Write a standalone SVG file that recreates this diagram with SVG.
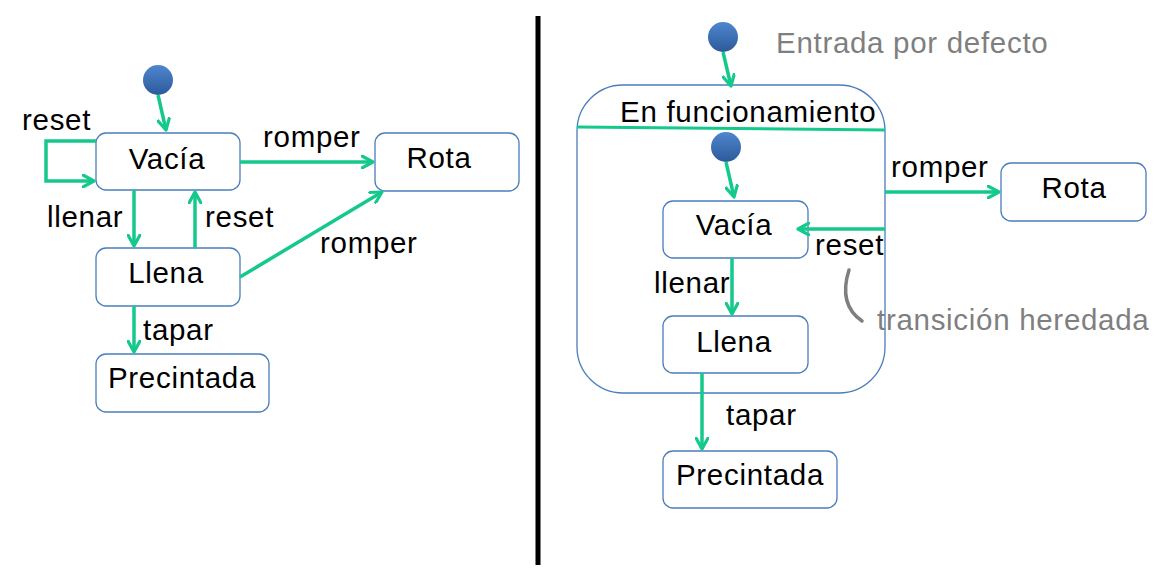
<svg xmlns="http://www.w3.org/2000/svg" width="1162" height="577" viewBox="0 0 1162 577">
<style>
.box{fill:#fff;stroke:#4a7ebb;stroke-width:1.3}
.t{font-family:"Liberation Sans",Arial,sans-serif;font-size:29.5px;letter-spacing:0.7px;fill:#000}
.c{text-anchor:middle}
.g{fill:#7f7f7f}
.e{fill:none;stroke:#14c98b;stroke-width:3.5}
.dot{fill:url(#dg)}
</style>
<defs>
<linearGradient id="dg" x1="0" y1="0" x2="0" y2="1">
<stop offset="0" stop-color="#4f86cf"/>
<stop offset="1" stop-color="#2c5a9a"/>
</linearGradient>
<marker id="ah" viewBox="0 0 14 14" refX="12" refY="7" markerWidth="14" markerHeight="14" markerUnits="userSpaceOnUse" orient="auto">
<path d="M1,1 L12,7 L1,13" fill="none" stroke="#14c98b" stroke-width="3.2" stroke-linecap="round" stroke-linejoin="round"/>
</marker>
</defs>
<rect width="1162" height="577" fill="#fff"/>
<line x1="538" y1="16" x2="538" y2="565" stroke="#000" stroke-width="5"/>

<!-- Left diagram -->
<g id="L_init"><circle class="dot" cx="158" cy="80" r="15"/></g>
<g id="L_vacia"><rect class="box" x="96" y="133" width="144" height="57" rx="10"/><text class="t c" x="167" y="169">Vacía</text></g>
<g id="L_rota"><rect class="box" x="375" y="133" width="144" height="58" rx="10"/><text class="t c" x="439" y="168">Rota</text></g>
<g id="L_llena"><rect class="box" x="96" y="248" width="144" height="58" rx="10"/><text class="t c" x="166" y="283">Llena</text></g>
<g id="L_precintada"><rect class="box" x="96" y="354" width="173" height="58" rx="10"/><text class="t c" x="182" y="388">Precintada</text></g>

<!-- Right diagram -->
<g id="R_container">
<rect class="box" x="577" y="85" width="308" height="308" rx="46"/>
<line x1="577" y1="127" x2="885" y2="130" stroke="#14c98b" stroke-width="3"/>
<text class="t" x="620" y="122">En funcionamiento</text>
</g>
<g id="R_init"><circle class="dot" cx="723" cy="37" r="15"/></g>
<g id="R_init2"><circle class="dot" cx="726" cy="147" r="15"/></g>
<g id="R_vacia"><rect class="box" x="663" y="201" width="145" height="57" rx="10"/><text class="t c" x="734" y="235">Vacía</text></g>
<g id="R_llena"><rect class="box" x="663" y="316" width="145" height="57" rx="10"/><text class="t c" x="734" y="352">Llena</text></g>
<g id="R_precintada"><rect class="box" x="663" y="451" width="174" height="57" rx="10"/><text class="t c" x="750" y="485">Precintada</text></g>
<g id="R_rota"><rect class="box" x="1001" y="163" width="145" height="58" rx="10"/><text class="t c" x="1074" y="198">Rota</text></g>

<g id="connectors">
<line class="e" x1="158" y1="95" x2="166" y2="130" marker-end="url(#ah)"/>
<polyline class="e" points="96,141 46,141 46,181 94,181" stroke-width="4" marker-end="url(#ah)"/>
<line class="e" x1="240" y1="162" x2="373" y2="162" marker-end="url(#ah)"/>
<line class="e" x1="134" y1="190" x2="134" y2="246" marker-end="url(#ah)"/>
<line class="e" x1="195" y1="248" x2="195" y2="192" marker-end="url(#ah)"/>
<line class="e" x1="240" y1="277" x2="382" y2="192" marker-end="url(#ah)"/>
<line class="e" x1="134" y1="306" x2="134" y2="352" marker-end="url(#ah)"/>

<line class="e" x1="723" y1="52" x2="731" y2="86" marker-end="url(#ah)"/>
<line class="e" x1="726" y1="162" x2="734" y2="197" marker-end="url(#ah)"/>
<line class="e" x1="885" y1="229" x2="798" y2="229" marker-end="url(#ah)"/>
<line class="e" x1="885" y1="192" x2="999" y2="192" marker-end="url(#ah)"/>
<line class="e" x1="732" y1="258" x2="732" y2="314" marker-end="url(#ah)"/>
<line class="e" x1="702" y1="373" x2="702" y2="449" marker-end="url(#ah)"/>
</g>

<g id="labels">
<text class="t" x="22" y="130">reset</text>
<text class="t" x="263" y="147">romper</text>
<text class="t" x="47" y="227">llenar</text>
<text class="t" x="205" y="227">reset</text>
<text class="t" x="320" y="253">romper</text>
<text class="t" x="143" y="340">tapar</text>

<text class="t g" x="776" y="53">Entrada por defecto</text>
<text class="t" x="891" y="177">romper</text>
<text class="t" x="815" y="255">reset</text>
<text class="t" x="654" y="293">llenar</text>
<text class="t" x="726" y="425">tapar</text>
<path d="M849,270 C842,292 846,310 862,321" fill="none" stroke="#7f7f7f" stroke-width="3.5" stroke-linecap="round"/>
<text class="t g" x="877" y="330">transición heredada</text>
</g>
</svg>
